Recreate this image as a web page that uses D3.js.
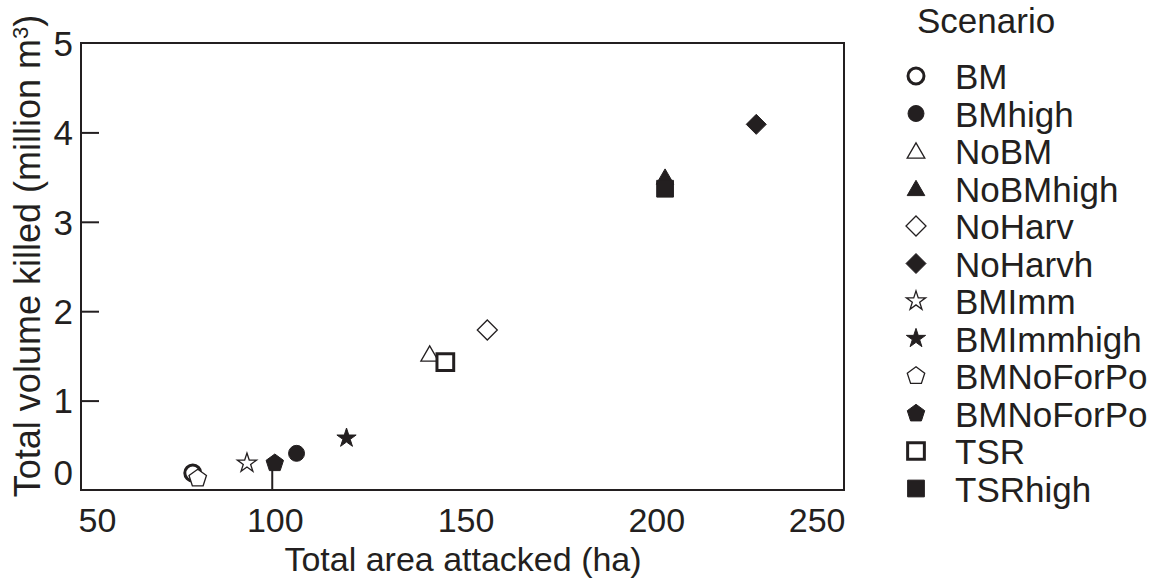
<!DOCTYPE html>
<html>
<head>
<meta charset="utf-8">
<script src="https://cdn.jsdelivr.net/npm/d3@7"></script>
<style>
  html, body { margin: 0; padding: 0; background: #fff; }
  svg { display: block; font-family: "Liberation Sans", Arial, sans-serif; }
</style>
</head>
<body>
<svg id="chart" width="1162" height="585"></svg>
<script>
// Scenario results: total area attacked (ha) vs total volume killed (million m3)
const scenarios = ["BM", "BMhigh", "NoBM", "NoBMhigh", "NoHarv", "NoHarvh",
                   "BMImm", "BMImmhigh", "BMNoForPo", "BMNoForPo", "TSR", "TSRhigh"];
const areaAttacked = [79.3, 106.5, 141.4, 203.1, 156.5, 227.0, 93.5, 119.6, 80.6, 100.8, 145.5, 203.1];
const volumeKilled = [0.19, 0.41, 1.52, 3.50, 1.79, 4.09, 0.30, 0.58, 0.13, 0.30, 1.43, 3.37];
const markerShape = ["circle", "circle", "triangle", "triangle", "diamond", "diamond",
                     "star", "star", "pentagon", "pentagon", "square", "square"];
const markerFilled = [false, true, false, true, false, true, false, true, false, true, false, true];

const xTicks = [50, 100, 150, 200, 250];
const yTicks = [0, 1, 2, 3, 4, 5];

const ink = "#231f20";
const svg = d3.select("#chart");

const x = d3.scaleLinear().domain([50, 250]).range([81, 844]);
const y = d3.scaleLinear().domain([0, 5]).range([490, 43]);

// custom symbol types
const pentagon = {
  draw(ctx, size) {
    const r = Math.sqrt(size / 2.3776);
    for (let i = 0; i < 5; i++) {
      const a = -Math.PI / 2 + i * 2 * Math.PI / 5;
      const px = r * Math.cos(a), py = r * Math.sin(a);
      if (i === 0) ctx.moveTo(px, py); else ctx.lineTo(px, py);
    }
    ctx.closePath();
  }
};
const diamond = {
  draw(ctx, size) {
    const h = Math.sqrt(size / 2);
    ctx.moveTo(0, -h); ctx.lineTo(h, 0); ctx.lineTo(0, h); ctx.lineTo(-h, 0); ctx.closePath();
  }
};
const symbolType = {
  circle: d3.symbolCircle, triangle: d3.symbolTriangle, diamond: diamond,
  star: d3.symbolStar, pentagon: pentagon, square: d3.symbolSquare
};
const symbolSize = { circle: 200, triangle: 135, diamond: 200, star: 115, pentagon: 200, square: 280 };
const openStroke = { circle: 3, square: 3, triangle: 1.3, diamond: 1.3, star: 1.3, pentagon: 1.3 };

function drawMarker(g, shape, filled) {
  const s = d3.symbol().type(symbolType[shape]).size(symbolSize[shape]);
  const ty = shape === "triangle" ? 2 : 0;
  g.append("path")
    .attr("d", s())
    .attr("transform", `translate(0,${ty})`)
    .attr("fill", filled ? ink : "#fff")
    .attr("stroke", ink)
    .attr("stroke-width", filled ? 1 : openStroke[shape])
    .attr("stroke-linejoin", "miter");
}

// plot frame
svg.append("rect")
  .attr("x", x(50)).attr("y", y(5))
  .attr("width", x(250) - x(50)).attr("height", y(0) - y(5))
  .attr("fill", "none").attr("stroke", ink).attr("stroke-width", 2);

// y axis ticks (inward) and labels
const yAxis = d3.axisLeft(y).tickValues(yTicks).tickSize(0).tickFormat(d3.format("d"));
const yg = svg.append("g").attr("transform", `translate(${x(50)},0)`).call(yAxis);
yg.select(".domain").remove();
yg.selectAll(".tick text")
  .attr("x", -8).attr("dy", d => d === 0 ? "-0.15em" : "0.35em")
  .attr("font-size", 35).attr("font-family", "Liberation Sans, Arial, sans-serif")
  .attr("fill", ink);
yg.selectAll(".tick").filter(d => d > 0 && d < 5).append("line")
  .attr("x1", 0).attr("x2", 18).attr("stroke", ink).attr("stroke-width", 2);

// x axis labels
const xAxis = d3.axisBottom(x).tickValues(xTicks).tickSize(0).tickFormat(d3.format("d"));
const xg = svg.append("g").attr("transform", `translate(0,${y(0)})`).call(xAxis);
xg.select(".domain").remove();
xg.selectAll(".tick text")
  .attr("y", 42).attr("dy", 0)
  .attr("font-size", 34).attr("font-family", "Liberation Sans, Arial, sans-serif")
  .attr("fill", ink)
  .attr("text-anchor", d => d === 50 ? "start" : d === 250 ? "end" : "middle")
  .attr("dx", d => d === 50 ? -3 : d === 250 ? 1 : 3);
xg.selectAll(".tick").filter(d => d === 100).append("line")
  .attr("y1", 0).attr("y2", -20).attr("stroke", ink).attr("stroke-width", 2);

// axis titles
svg.append("text")
  .attr("x", 463).attr("y", 571)
  .attr("text-anchor", "middle").attr("font-size", 34).attr("fill", ink)
  .text("Total area attacked (ha)");

const yt = svg.append("text")
  .attr("transform", `translate(40,256) rotate(-90)`)
  .attr("text-anchor", "middle").attr("font-size", 36).attr("fill", ink);
yt.append("tspan").text("Total volume killed (million m");
yt.append("tspan").attr("dy", -12).attr("font-size", 22).text("3");
yt.append("tspan").attr("dy", 12).text(")");

// data points
const pts = svg.append("g");
scenarios.forEach((name, i) => {
  const g = pts.append("g").attr("transform", `translate(${x(areaAttacked[i])},${y(volumeKilled[i])})`);
  drawMarker(g, markerShape[i], markerFilled[i]);
});

// legend
const leg = svg.append("g");
leg.append("text").attr("x", 917).attr("y", 33)
  .attr("font-size", 35).attr("fill", ink).text("Scenario");
scenarios.forEach((name, i) => {
  const cy = 76 + i * 37.5;
  const g = leg.append("g").attr("transform", `translate(916,${cy})`);
  drawMarker(g, markerShape[i], markerFilled[i]);
  leg.append("text").attr("x", 955).attr("y", cy + 13)
    .attr("font-size", 35).attr("fill", ink).text(name);
});
</script>
</body>
</html>
